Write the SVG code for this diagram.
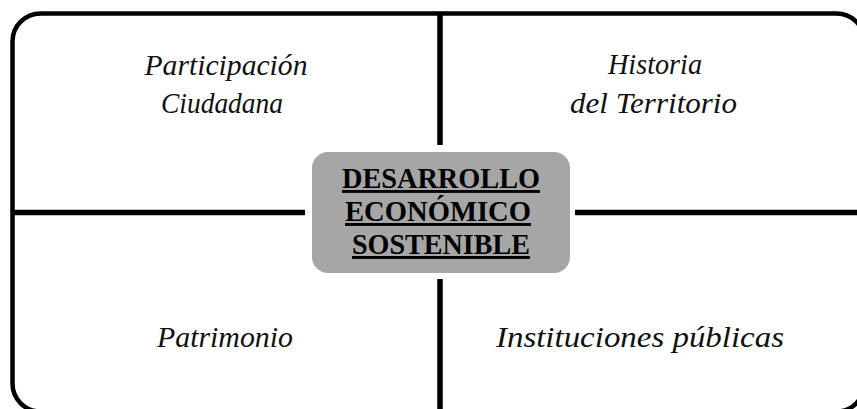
<svg xmlns="http://www.w3.org/2000/svg" width="857" height="409" viewBox="0 0 857 409">
<style>
.frame{fill:none;stroke:#000;stroke-width:4.5}
.conn line{stroke:#000;stroke-width:5.5}
.lbl{font-family:"Liberation Serif","Times New Roman",serif;font-style:italic;font-size:30px;fill:#111;text-anchor:middle}
.core{font-family:"Liberation Serif","Times New Roman",serif;font-weight:bold;font-size:29px;fill:#000;text-anchor:middle;text-decoration:underline}
</style>
<rect width="857" height="409" fill="#fff"/>
<g id="frame"><rect class="frame" x="12.5" y="13.5" width="852" height="398" rx="28" ry="28"/></g>
<g id="connectors" class="conn">
<line x1="440" y1="13" x2="440" y2="145"/>
<line x1="440" y1="279" x2="440" y2="412"/>
<line x1="12" y1="212.5" x2="305" y2="212.5"/>
<line x1="575" y1="212.5" x2="866" y2="212.5"/>
</g>
<g id="center">
<rect x="312" y="152" width="258" height="121" rx="16" ry="16" fill="#a6a6a6"/>
<text class="core" x="441" y="188" textLength="198" lengthAdjust="spacingAndGlyphs">DESARROLLO</text>
<text class="core" x="438" y="221" textLength="186" lengthAdjust="spacingAndGlyphs">ECONÓMICO</text>
<text class="core" x="441" y="254" textLength="178" lengthAdjust="spacingAndGlyphs">SOSTENIBLE</text>
</g>
<g id="participacion">
<text class="lbl" x="226" y="75" textLength="163" lengthAdjust="spacingAndGlyphs">Participación</text>
<text class="lbl" x="222" y="113" textLength="122" lengthAdjust="spacingAndGlyphs">Ciudadana</text>
</g>
<g id="historia">
<text class="lbl" x="655" y="74" textLength="94" lengthAdjust="spacingAndGlyphs">Historia</text>
<text class="lbl" x="653.5" y="113" textLength="167" lengthAdjust="spacingAndGlyphs">del Territorio</text>
</g>
<g id="patrimonio">
<text class="lbl" x="225" y="347" textLength="136" lengthAdjust="spacingAndGlyphs">Patrimonio</text>
</g>
<g id="instituciones">
<text class="lbl" x="640" y="347" textLength="288" lengthAdjust="spacingAndGlyphs">Instituciones públicas</text>
</g>
</svg>
